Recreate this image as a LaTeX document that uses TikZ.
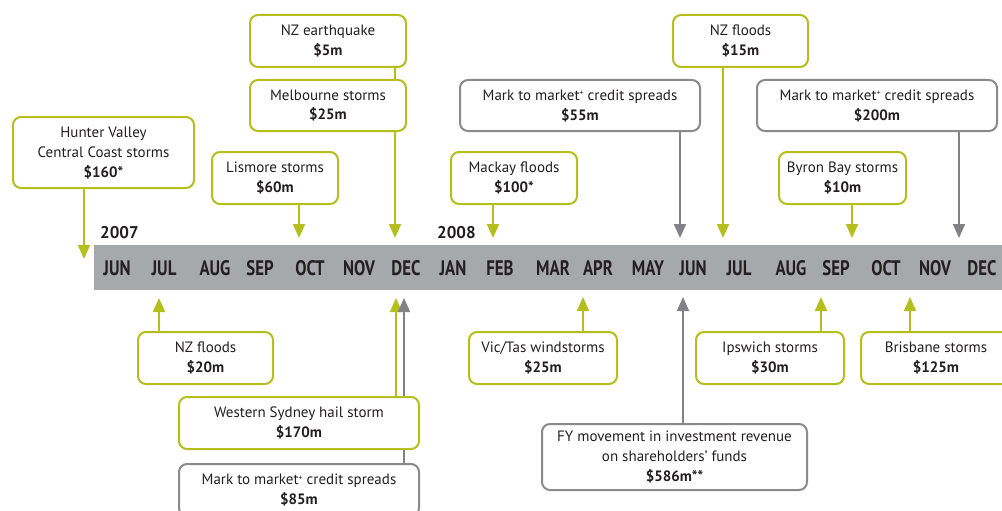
\documentclass[tikz,border=0pt]{standalone}
\usepackage{fontspec}
\setmainfont{PT Sans}
\usetikzlibrary{arrows.meta}
\pgfdeclarelayer{background}
\pgfsetlayers{background,main}
\definecolor{lime}{RGB}{180,190,28}
\definecolor{boxgray}{RGB}{138,138,141}
\definecolor{arrgray}{RGB}{130,130,134}
\definecolor{bargray}{RGB}{167,168,172}
\definecolor{ink}{RGB}{35,31,32}
\tikzset{
  evbox/.style={draw=lime, line width=2pt, rounded corners=8pt, fill=white, align=center, inner sep=0pt, text=ink, font=\fontsize{15}{20}\selectfont},
  finbox/.style={evbox, draw=boxgray},
  garr/.style={draw=lime, line width=2pt, -{Triangle[width=12pt,length=14pt]}, fill=lime},
  gyarr/.style={draw=arrgray, line width=2pt, -{Triangle[width=12pt,length=14pt]}, fill=arrgray},
  glink/.style={draw=lime, line width=2pt},
  month/.style={text=ink, font=\bfseries\fontsize{21}{22}\selectfont, inner sep=0pt},
  year/.style={text=ink, font=\bfseries\fontsize{17}{20}\selectfont, inner sep=0pt, anchor=west}
}
\newcommand{\mtm}{Mark to market\raisebox{0.55ex}{\fontsize{8}{8}\selectfont +} credit spreads}
\begin{document}
\begin{tikzpicture}[x=1pt,y=-1pt]
\useasboundingbox (0,0) rectangle (1002,511);
% bar
\fill[bargray] (94,245) rectangle (1002,290);
% months
\foreach \n/\x/\t in {m1/117/JUN,m2/164/JUL,m3/215/AUG,m4/260/SEP,m5/310/OCT,m6/359/NOV,m7/406/DEC,m8/453/JAN,m9/500/FEB,m10/553/MAR,m11/598/APR,m12/648/MAY,m13/693/JUN,m14/739/JUL,m15/791/AUG,m16/836/SEP,m17/886/OCT,m18/935/NOV,m19/982/DEC}
  \node[month] (\n) at (\x,268) {\scalebox{0.8}[1]{\t}};
\node[year] (y07) at (100,233) {2007};
\node[year] (y08) at (437,233) {2008};
% top boxes
\node[evbox, minimum width=181pt, minimum height=71pt] (hv) at (103.5,152.5) {Hunter Valley\\Central Coast storms\\\textbf{\$160*}};
\node[evbox, minimum width=126pt, minimum height=52pt] (lis) at (275,178) {Lismore storms\\\textbf{\$60m}};
\node[evbox, minimum width=156pt, minimum height=52pt] (nzeq) at (328,41) {NZ earthquake\\\textbf{\$5m}};
\node[evbox, minimum width=156pt, minimum height=51pt] (mel) at (328,105.5) {Melbourne storms\\\textbf{\$25m}};
\node[evbox, minimum width=126pt, minimum height=52pt] (mac) at (514,178) {Mackay floods\\\textbf{\$100*}};
\node[finbox, minimum width=240pt, minimum height=51pt] (mm55) at (580,105.5) {\mtm\\\textbf{\$55m}};
\node[evbox, minimum width=135pt, minimum height=52pt] (nzf15) at (740.5,41) {NZ floods\\\textbf{\$15m}};
\node[evbox, minimum width=127pt, minimum height=52pt] (byr) at (842.5,178) {Byron Bay storms\\\textbf{\$10m}};
\node[finbox, minimum width=240pt, minimum height=51pt] (mm200) at (877,105.5) {\mtm\\\textbf{\$200m}};
% bottom boxes
\node[evbox, minimum width=135pt, minimum height=52pt] (nzf20) at (205.5,358) {NZ floods\\\textbf{\$20m}};
\node[evbox, minimum width=240pt, minimum height=52pt] (ws) at (299,423) {Western Sydney hail storm\\\textbf{\$170m}};
\node[finbox, minimum width=240pt, minimum height=52pt] (mm85) at (299,490) {\mtm\\\textbf{\$85m}};
\node[evbox, minimum width=148pt, minimum height=52pt] (vic) at (543,358) {Vic/Tas windstorms\\\textbf{\$25m}};
\node[finbox, minimum width=265pt, minimum height=66pt] (fy) at (674.5,457) {FY movement in investment revenue\\on shareholders’ funds\\\textbf{\$586m**}};
\node[evbox, minimum width=148pt, minimum height=52pt] (ips) at (770,358) {Ipswich storms\\\textbf{\$30m}};
\node[evbox, minimum width=150pt, minimum height=52pt] (bris) at (936,358) {Brisbane storms\\\textbf{\$125m}};
% arrow end points
\coordinate (hvT) at (84,259);
\coordinate (lisT) at (299,238);
\coordinate (melT) at (395,238);
\coordinate (macT) at (493,238);
\coordinate (mm55T) at (680,238);
\coordinate (nzf15T) at (723,238);
\coordinate (byrT) at (852,238);
\coordinate (mm200T) at (959,238);
\coordinate (nzf20T) at (159,298);
\coordinate (wsT) at (396,298);
\coordinate (mm85T) at (404,298);
\coordinate (vicT) at (583,297);
\coordinate (fyT) at (683,297);
\coordinate (ipsT) at (821,297);
\coordinate (brisT) at (910,297);
\begin{pgfonlayer}{background}
\draw[garr] (hv.south -| hvT) -- (hvT);
\draw[garr] (lis.south -| lisT) -- (lisT);
\draw[glink] (nzeq.south -| melT) -- (mel.north -| melT);
\draw[garr] (mel.south -| melT) -- (melT);
\draw[garr] (mac.south -| macT) -- (macT);
\draw[gyarr] (mm55.south -| mm55T) -- (mm55T);
\draw[garr] (nzf15.south -| nzf15T) -- (nzf15T);
\draw[garr] (byr.south -| byrT) -- (byrT);
\draw[gyarr] (mm200.south -| mm200T) -- (mm200T);
\draw[garr] (nzf20.north -| nzf20T) -- (nzf20T);
\draw[garr] (ws.north -| wsT) -- (wsT);
\draw[gyarr] (mm85.north -| mm85T) -- (mm85T);
\draw[garr] (vic.north -| vicT) -- (vicT);
\draw[gyarr] (fy.north -| fyT) -- (fyT);
\draw[garr] (ips.north -| ipsT) -- (ipsT);
\draw[garr] (bris.north -| brisT) -- (brisT);
\end{pgfonlayer}
\end{tikzpicture}
\end{document}
